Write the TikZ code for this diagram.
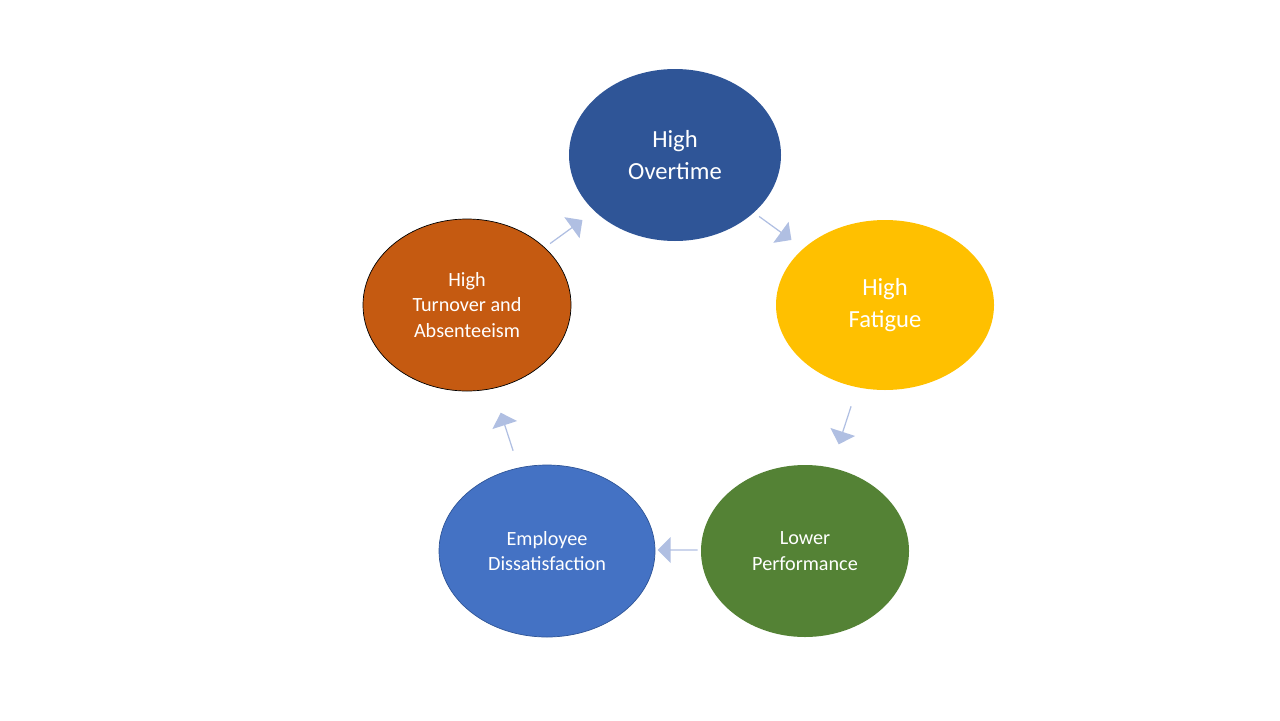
\documentclass[tikz,border=0pt]{standalone}
\usepackage{fontspec}
\setmainfont{Carlito}
\usetikzlibrary{shapes.arrows,shapes.geometric}
\definecolor{cO}{HTML}{2F5597}
\definecolor{cF}{HTML}{FFC000}
\definecolor{cL}{HTML}{548235}
\definecolor{cE}{HTML}{4472C4}
\definecolor{cT}{HTML}{C55A11}
\definecolor{cA}{HTML}{B0BFE2}
\begin{document}
\begin{tikzpicture}[x=0.02cm,y=-0.02cm,
  blob/.style={text=white,align=center,font=\fontsize{11.5}{14.5}\selectfont},
  blobbig/.style={text=white,align=center,font=\fontsize{14}{18}\selectfont},
  arr/.style={single arrow,fill=cA,draw=none,inner sep=0pt,minimum width=0.52cm,single arrow head extend=0.14cm,single arrow head indent=0cm,minimum height=0.8cm}]
\useasboundingbox (0,0) rectangle (1280,720);
\fill[cO] (675,155) ellipse [x radius=106,y radius=86];
\node[blobbig] (o) at (675,155) {High\\Overtime};
\fill[cF] (885,305) ellipse [x radius=109,y radius=85];
\node[blobbig] (f) at (885,305) {High\\Fatigue};
\fill[cL] (805,551) ellipse [x radius=104,y radius=86];
\node[blob] (l) at (805,551) {Lower\\Performance};
\filldraw[fill=cE,draw=cO,line width=0.4pt] (547,551) ellipse [x radius=108,y radius=86];
\node[blob] (e) at (547,551) {Employee\\Dissatisfaction};
\filldraw[fill=cT,draw=black,line width=0.4pt] (467,305) ellipse [x radius=104,y radius=86];
\node[blob] (t) at (467,305) {High\\Turnover and\\Absenteeism};
\node[arr,rotate=36] (a1) at (566,232) {};
\node[arr,rotate=-36] (a2) at (775,228) {};
\node[arr,rotate=-108] (a3) at (845,425) {};
\node[arr,rotate=180] (a4) at (678,550) {};
\node[arr,rotate=108] (a5) at (507,432) {};
\end{tikzpicture}
\end{document}
